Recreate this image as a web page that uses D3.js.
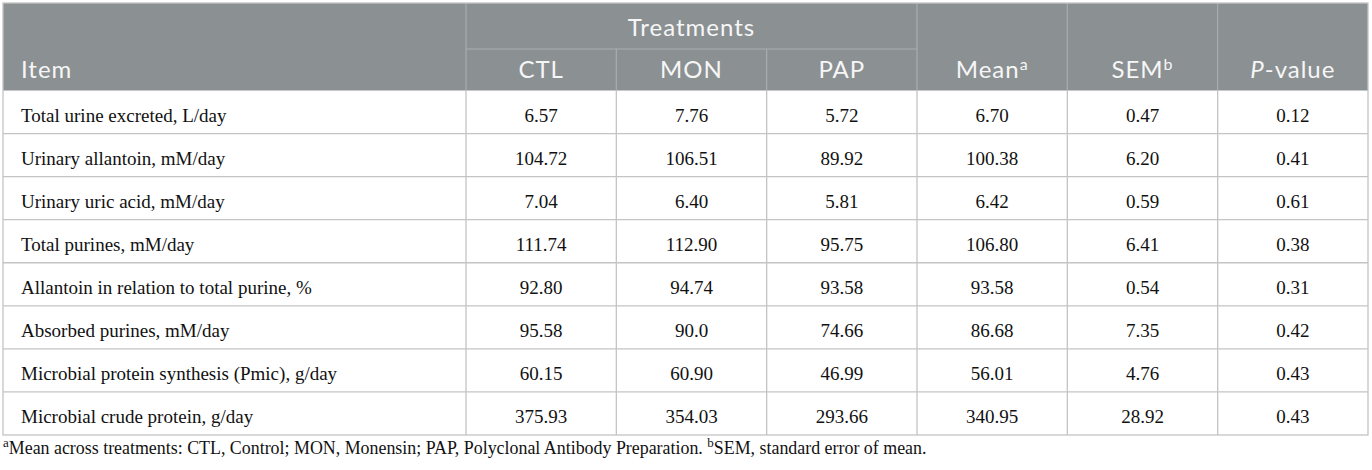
<!DOCTYPE html>
<html>
<head>
<meta charset="utf-8">
<script src="https://cdn.jsdelivr.net/npm/d3@7"></script>
<style>
  body { margin: 0; background: #fff; }
</style>
</head>
<body>
<div id="chart"></div>
<script>
var items = [
  "Total urine excreted, L/day",
  "Urinary allantoin, mM/day",
  "Urinary uric acid, mM/day",
  "Total purines, mM/day",
  "Allantoin in relation to total purine, %",
  "Absorbed purines, mM/day",
  "Microbial protein synthesis (Pmic), g/day",
  "Microbial crude protein, g/day"
]
var columns = ["CTL", "MON", "PAP", "Mean", "SEM", "P"]

var ctl    = ["6.57", "104.72", "7.04", "111.74", "92.80", "95.58", "60.15", "375.93"]
var mon    = ["7.76", "106.51", "6.40", "112.90", "94.74", "90.0", "60.90", "354.03"]
var pap    = ["5.72", "89.92", "5.81", "95.75", "93.58", "74.66", "46.99", "293.66"]
var mean   = ["6.70", "100.38", "6.42", "106.80", "93.58", "86.68", "56.01", "340.95"]
var sem    = ["0.47", "6.20", "0.59", "6.41", "0.54", "7.35", "4.76", "28.92"]
var pvalue = ["0.12", "0.41", "0.61", "0.38", "0.31", "0.42", "0.43", "0.43"]

var footnoteA = "Mean across treatments: CTL, Control; MON, Monensin; PAP, Polyclonal Antibody Preparation. "
var footnoteB = "SEM, standard error of mean."

var series = [ctl, mon, pap, mean, sem, pvalue]

var width = 1372, height = 470
var tLeft = 3, tRight = 1368, tTop = 3, headMid = 49, headBottom = 90.5, tBottom = 435
var itemRight = 466

var headFill = "#8b9093"
var headLine = "#a9aeb0"
var gridLine = "#c4c4c4"
var sans = "Lato, 'Open Sans', sans-serif"
var serif = "'Liberation Serif', 'DejaVu Serif', serif"

var svg = d3.select("#chart").append("svg")
    .attr("width", width)
    .attr("height", height)

var x = d3.scaleBand().domain(columns).range([itemRight, tRight])
var y = d3.scaleBand().domain(items).range([headBottom, tBottom])

// header background
svg.append("rect")
    .attr("x", tLeft).attr("y", tTop)
    .attr("width", tRight - tLeft).attr("height", headBottom - tTop)
    .style("fill", headFill)

// header lines
var hl = svg.append("g").style("stroke", headLine).style("stroke-width", 1.2)
hl.append("line")
    .attr("x1", x("CTL")).attr("x2", x("PAP") + x.bandwidth())
    .attr("y1", headMid).attr("y2", headMid)
hl.selectAll(".vh").data(columns).enter().append("line")
    .attr("x1", function(d) { return x(d) })
    .attr("x2", function(d) { return x(d) })
    .attr("y1", function(d) { return (d == "MON" || d == "PAP") ? headMid : tTop })
    .attr("y2", headBottom)

// body grid
var g = svg.append("g").style("stroke", gridLine).style("stroke-width", 1.3)
g.selectAll(".hr").data(items.slice(1)).enter().append("line")
    .attr("x1", tLeft).attr("x2", tRight)
    .attr("y1", function(d) { return y(d) })
    .attr("y2", function(d) { return y(d) })
g.selectAll(".vr").data(columns).enter().append("line")
    .attr("x1", function(d) { return x(d) })
    .attr("x2", function(d) { return x(d) })
    .attr("y1", headBottom).attr("y2", tBottom)
g.append("rect")
    .attr("x", tLeft).attr("y", tTop)
    .attr("width", tRight - tLeft).attr("height", tBottom - tTop)
    .style("fill", "none")

// header text
var ht = svg.append("g")
    .style("font-family", sans)
    .style("font-size", "24px")
    .style("letter-spacing", "1px")
    .style("fill", "#f6f6f6")

ht.append("text")
    .attr("x", x("CTL") + (x("PAP") + x.bandwidth() - x("CTL")) / 2)
    .attr("y", 36)
    .attr("text-anchor", "middle")
    .text("Treatments")

ht.append("text").attr("x", 21).attr("y", 78).text("Item")

var labels = ht.selectAll(".col").data(columns).enter().append("text")
    .attr("x", function(d) { return x(d) + x.bandwidth() / 2 })
    .attr("y", 78)
    .attr("text-anchor", "middle")

labels.each(function(d) {
  var t = d3.select(this)
  if (d == "Mean" || d == "SEM") {
    t.append("tspan").text(d)
    t.append("tspan")
        .attr("dy", -8)
        .style("font-size", "16px")
        .text(d == "Mean" ? "a" : "b")
  } else if (d == "P") {
    t.append("tspan").style("font-style", "italic").text("P")
    t.append("tspan").text("-value")
  } else {
    t.text(d)
  }
})

// body text
var bt = svg.append("g")
    .style("font-family", serif)
    .style("font-size", "19px")
    .style("fill", "#111")

bt.selectAll(".item").data(items).enter().append("text")
    .attr("x", 21)
    .attr("y", function(d) { return y(d) + 31 })
    .text(function(d) { return d })

series.forEach(function(vals, ci) {
  bt.selectAll(".c" + ci).data(vals).enter().append("text")
      .attr("x", x(columns[ci]) + x.bandwidth() / 2)
      .attr("y", function(d, i) { return y(items[i]) + 31 })
      .attr("text-anchor", "middle")
      .text(function(d) { return d })
})

// footnote
var fn = svg.append("text")
    .attr("x", 3)
    .attr("y", 454)
    .style("font-family", serif)
    .style("font-size", "17.9px")
    .style("fill", "#111")
fn.append("tspan").attr("dy", -7).style("font-size", "13px").text("a")
fn.append("tspan").attr("dy", 7).text(footnoteA)
fn.append("tspan").attr("dy", -7).style("font-size", "13px").text("b")
fn.append("tspan").attr("dy", 7).text(footnoteB)
</script>
</body>
</html>
